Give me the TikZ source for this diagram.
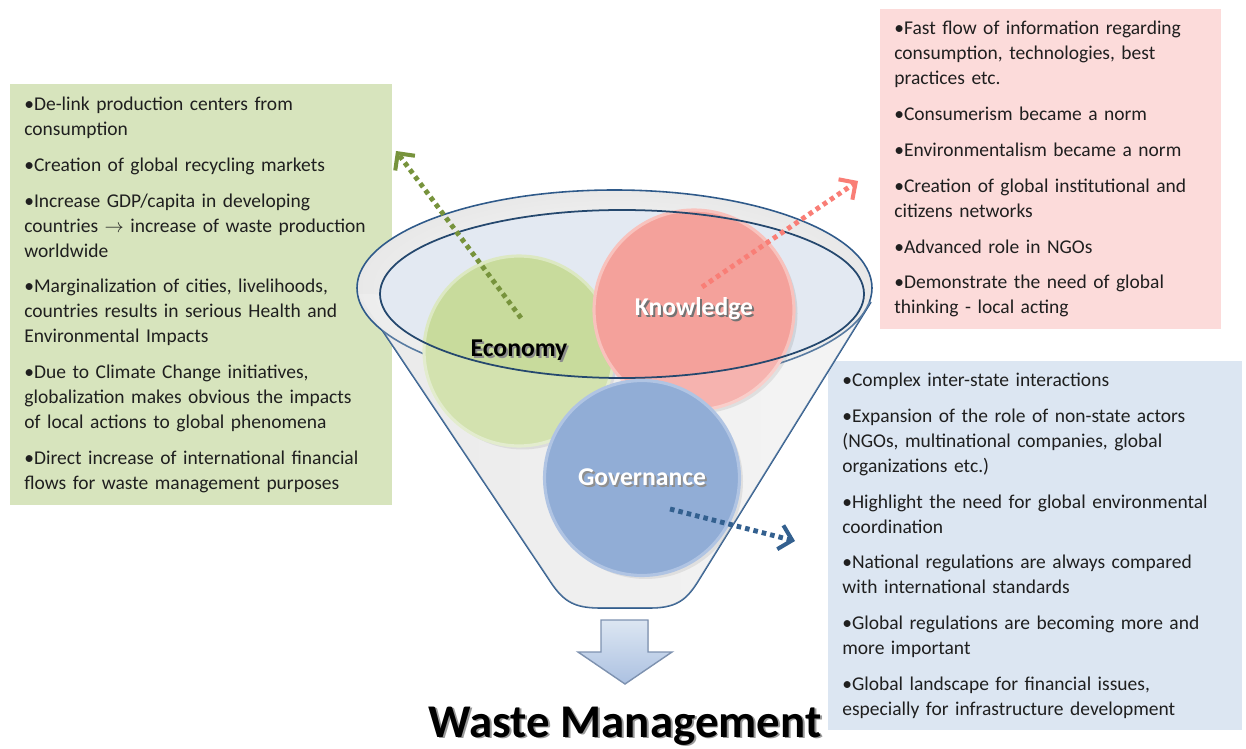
\documentclass[tikz,border=0pt]{standalone}
\usepackage{fontspec}
\setmainfont{Carlito}
\usepackage{tikz}
\usetikzlibrary{arrows.meta,shadows}

\definecolor{econfill}{HTML}{C8DB9C}
\definecolor{econring}{HTML}{DCE8C2}
\definecolor{knowfill}{HTML}{F4A19B}
\definecolor{knowring}{HTML}{F8C2BD}
\definecolor{govfill}{HTML}{7699CC}
\definecolor{govring}{HTML}{9DB6DC}
\definecolor{econbox}{HTML}{D7E4BD}
\definecolor{knowbox}{HTML}{FCDBDA}
\definecolor{govbox}{HTML}{DCE6F2}
\definecolor{econline}{HTML}{77933C}
\definecolor{knowline}{HTML}{F97E76}
\definecolor{govline}{HTML}{33608F}
\definecolor{funnelline}{HTML}{2F5A8A}
\definecolor{mouth}{HTML}{E3E9F2}

% text with a small drop shadow
\newcommand{\shtext}[2][black!45]{\makebox[0pt][l]{\hspace{1.1pt}\raisebox{-1.1pt}{\color{#1}#2}}#2}

\begin{document}
\begin{tikzpicture}[x=0.02cm, y=-0.02cm,
    infobox/.style={anchor=north west, inner xsep=0.28cm, inner ysep=0pt, align=left,
        font=\fontsize{11.1}{14.2}\selectfont, text=black!88},
    topic/.style={circle, inner sep=0pt, line width=1.8pt,
        drop shadow={opacity=0.2, shadow xshift=2pt, shadow yshift=-2pt},
        font=\bfseries\fontsize{14.6}{16}\selectfont},
    trend/.style={line width=2.8pt, dash pattern=on 2.6pt off 2.3pt,
        -{Straight Barb[length=7pt, width=14pt, line width=2.3pt]}}]

    \useasboundingbox (0,0) rectangle (1246,749);

    % Text boxes
    \node[infobox, fill=econbox, text width=7.08cm, minimum height=8.42cm] (econbox) at (10,84) {%
        •De-link production centers from\\consumption\\[6.2pt]
        •Creation of global recycling markets\\[6.2pt]
        •Increase GDP/capita in developing\\countries \ensuremath{\rightarrow} increase of waste production\\worldwide\\[6.2pt]
        •Marginalization of cities, livelihoods,\\countries results in serious Health and\\Environmental Impacts\\[6.2pt]
        •Due to Climate Change initiatives,\\globalization makes obvious the impacts\\of local actions to global phenomena\\[6.2pt]
        •Direct increase of international financial\\flows for waste management purposes};
    \node[infobox, fill=knowbox, text width=6.26cm, minimum height=6.4cm] (knowbox) at (880,9) {%
        •Fast flow of information regarding\\consumption, technologies, best\\practices etc.\\[6.2pt]
        •Consumerism became a norm\\[6.2pt]
        •Environmentalism became a norm\\[6.2pt]
        •Creation of global institutional and\\citizens networks\\[6.2pt]
        •Advanced role in NGOs\\[6.2pt]
        •Demonstrate the need of global\\thinking - local acting};
    \node[infobox, fill=govbox, text width=7.72cm, minimum height=7.38cm] (govbox) at (828,361) {%
        •Complex inter-state interactions\\[6.2pt]
        •Expansion of the role of non-state actors\\(NGOs, multinational companies, global\\organizations etc.)\\[6.2pt]
        •Highlight the need for global environmental\\coordination\\[6.2pt]
        •National regulations are always compared\\with international standards\\[6.2pt]
        •Global regulations are becoming more and\\more important\\[6.2pt]
        •Global landscape for financial issues,\\especially for infrastructure development};

    % Funnel
    \filldraw[funnelline, line width=0.9pt, left color=black!10, middle color=white, right color=black!5]
        (358,294) -- (548,578) .. controls (562,600) and (572,608) .. (600,608)
        -- (650,608) .. controls (676,608) and (686,600) .. (697,583) -- (871,302);
    \filldraw[funnelline, line width=0.9pt, inner color=white, outer color=black!9]
        (614.5,288) ellipse [x radius=257.5, y radius=98];
    \fill[mouth] (622,294) ellipse [x radius=242, y radius=84];

    % Topic circles
    \node[topic, fill=econfill, draw=econring, minimum size=3.8cm] (econ) at (519,351) {\shtext{Economy}};
    \node[topic, fill=knowfill, draw=knowring, minimum size=4cm, text=white] (know) at (694,310) {\shtext[black!55]{Knowledge}};
    \node[topic, fill=govfill, draw=govring, minimum size=3.9cm, text=white] (gov) at (642,478) {\shtext[black!55]{Governance}};

    % Front wall of the funnel
    \begin{scope}
        \clip (358,294) -- (548,578) .. controls (562,600) and (572,608) .. (600,608)
            -- (650,608) .. controls (676,608) and (686,600) .. (697,583) -- (871,302) -- cycle;
        \fill[white, opacity=0.2, even odd rule] (300,150) rectangle (900,650)
            (622,294) ellipse [x radius=242, y radius=84];
    \end{scope}
    \draw[funnelline!80!black, line width=1pt] (622,294) ellipse [x radius=242, y radius=84];

    % Trend arrows
    \coordinate (econ start) at (521,318);
    \coordinate (econ tip) at (396,151);
    \coordinate (know start) at (702,287);
    \coordinate (know tip) at (858,181);
    \coordinate (gov start) at (670,509);
    \coordinate (gov tip) at (795,541);
    \draw[trend, econline] (econ start) -- (econ tip);
    \draw[trend, knowline] (know start) -- (know tip);
    \draw[trend, govline] (gov start) -- (gov tip);

    % Output arrow and title
    \filldraw[draw=black!20!govring, line width=0.8pt, top color=govbox, bottom color=govring!85]
        (601,620) -- (648,620) -- (648,652) -- (672,652) -- (625,684) -- (578,652) -- (601,652) -- cycle;
    \node[anchor=base, inner sep=0pt, font=\bfseries\fontsize{26.7}{30}\selectfont] (title) at (625,737)
        {\shtext[black!40]{Waste Management}};

\end{tikzpicture}
\end{document}
